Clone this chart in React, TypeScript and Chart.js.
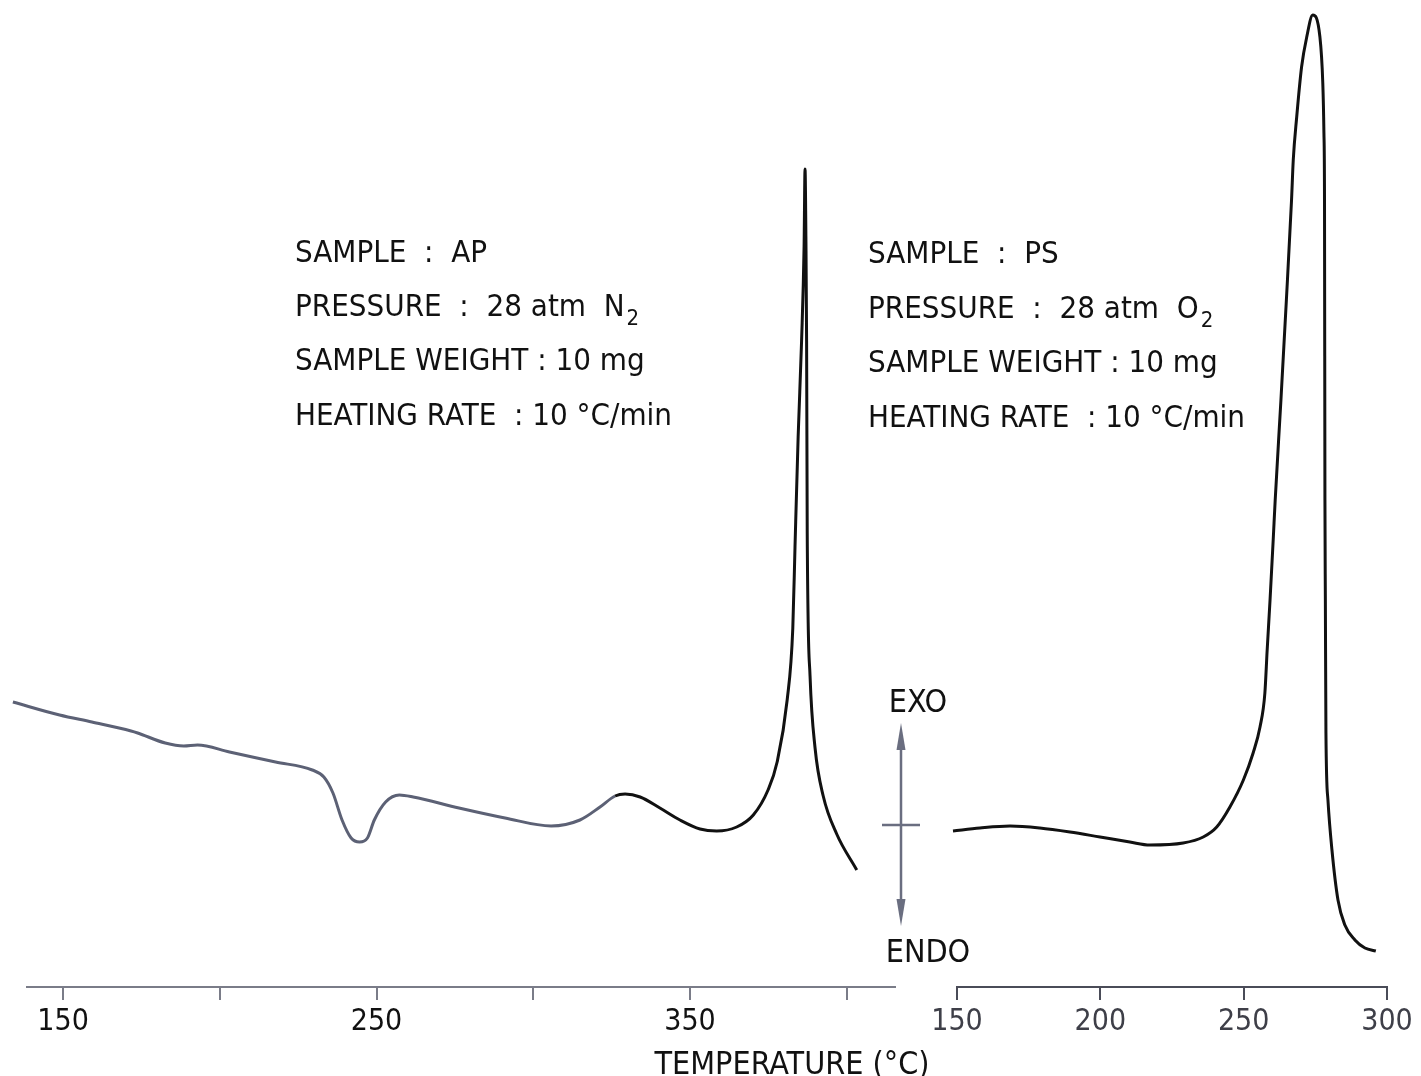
import React, { useEffect, useRef } from "react";
import { Chart, registerables } from "chart.js";

Chart.register(...registerables);

// ---- Data ----
// Left trace: sample AP, 28 atm N2 (temperature °C, heat flow arb. units)
const apTemp = [
  134.0, 148.9, 159.2, 171.7, 173.8, 182.6, 188.5, 192.9, 203.1, 217.8, 229.5, 233.2,
  236.1, 239.0, 241.9, 244.6, 247.1, 249.3, 252.9, 257.3, 261.7, 276.3, 291.0, 305.7,
  314.9, 321.3, 326.1, 329.3, 334.1, 340.4, 346.8, 353.2, 358.5, 364.9, 370.2, 374.9,
  377.8, 381.0, 382.8, 383.5, 384.5, 385.6, 386.4, 386.7, 387.0, 387.2, 387.4, 388.3,
  389.9, 392.5, 396.8, 403.2,
];
const apSignal = [
  28.5, 27.2, 26.5, 25.6, 25.4, 24.4, 24.1, 24.2, 23.5, 22.5, 21.7, 21.0,
  19.4, 16.7, 14.9, 14.5, 14.9, 16.7, 18.5, 19.2, 19.0, 17.9, 16.9, 16.1,
  16.7, 18.0, 19.1, 19.3, 19.0, 17.9, 16.7, 15.8, 15.6, 16.0, 17.2, 19.7,
  22.5, 28.7, 35.9, 44.0, 55.0, 64.6, 74.1, 81.8, 74.1, 64.6, 45.4, 31.1,
  23.9, 19.1, 15.3, 11.7,
];
// Right trace: sample PS, 28 atm O2
const psTemp = [
  148.6, 158.0, 168.5, 178.9, 189.4, 199.9, 210.3, 217.3, 228.9, 235.9, 240.6, 245.2,
  249.9, 253.3, 255.7, 257.4, 258.2, 259.2, 260.3, 261.0, 263.0, 264.9, 266.7, 267.3,
  268.5, 270.2, 272.0, 274.1, 276.6, 277.6, 278.0, 278.2, 278.35, 278.5, 278.7, 279.4,
  280.8, 282.9, 285.3, 288.8, 292.3, 296.1,
];
const psSignal = [
  15.6, 15.9, 16.1, 15.9, 15.5, 15.0, 14.5, 14.2, 14.4, 15.0, 16.0, 18.0,
  20.7, 23.4, 26.0, 29.4, 33.7, 38.7, 44.7, 48.7, 58.7, 68.7, 78.7, 82.7,
  87.0, 92.0, 95.0, 97.2, 95.0, 90.4, 85.4, 78.7, 48.7, 38.7, 25.4, 18.7,
  13.7, 8.7, 6.2, 4.7, 3.9, 3.6,
];

const apTicks = [150, 200, 250, 300, 350, 400];
const apTickLabels = ["150", "", "250", "", "350", ""];
const psTicks = [150, 200, 250, 300];
const psTickLabels = ["150", "200", "250", "300"];

const apInfo = [
  { text: "SAMPLE  :  AP", sub: "" },
  { text: "PRESSURE  :  28 atm  N", sub: "2" },
  { text: "SAMPLE WEIGHT : 10 mg", sub: "" },
  { text: "HEATING RATE  : 10 °C/min", sub: "" },
];
const psInfo = [
  { text: "SAMPLE  :  PS", sub: "" },
  { text: "PRESSURE  :  28 atm  O", sub: "2" },
  { text: "SAMPLE WEIGHT : 10 mg", sub: "" },
  { text: "HEATING RATE  : 10 °C/min", sub: "" },
];
const axisTitle = "TEMPERATURE (°C)";
const exoLabel = "EXO";
const endoLabel = "ENDO";

// ---- Styling ----
const W = 1421;
const H = 1076;
const FONT = "'DejaVu Sans Condensed', 'DejaVu Sans', sans-serif";
const GRAY = "#5c6175";
const INK = "#111111";
const Y_MIN = 0;
const Y_MAX = 98.7;

function drawInfo(ctx: CanvasRenderingContext2D, x: number, baselines: number[], lines: { text: string; sub: string }[]) {
  lines.forEach((ln, i) => {
    ctx.font = `31px ${FONT}`;
    ctx.fillStyle = INK;
    ctx.textAlign = "left";
    ctx.textBaseline = "alphabetic";
    ctx.fillText(ln.text, x, baselines[i]);
    if (ln.sub) {
      const w = ctx.measureText(ln.text).width;
      ctx.font = `22px ${FONT}`;
      ctx.fillText(ln.sub, x + w + 2, baselines[i] + 9);
    }
  });
}

function xScale(min: number, max: number, ticks: number[], labels: string[], color: string, lineColor: string) {
  return {
    type: "linear" as const,
    min,
    max,
    afterBuildTicks: (s: any) => {
      s.ticks = ticks.map((v) => ({ value: v }));
    },
    afterFit: (s: any) => {
      s.height = 89;
    },
    ticks: {
      autoSkip: false,
      maxRotation: 0,
      padding: 4,
      color,
      font: { family: FONT, size: 30 },
      callback: (v: any) => {
        const i = ticks.indexOf(Number(v));
        return i >= 0 ? labels[i] : "";
      },
    },
    grid: {
      display: true,
      drawOnChartArea: false,
      drawTicks: true,
      tickLength: 13,
      color: lineColor,
      lineWidth: 2,
    },
    border: { display: true, color: lineColor, width: 2 },
  };
}

const yScale = {
  type: "linear" as const,
  display: false,
  min: Y_MIN,
  max: Y_MAX,
};

export default function App() {
  const leftRef = useRef<HTMLCanvasElement | null>(null);
  const rightRef = useRef<HTMLCanvasElement | null>(null);

  useEffect(() => {
    if (!leftRef.current || !rightRef.current) return;

    const leftNotes = {
      id: "leftNotes",
      afterDraw(chart: any) {
        const ctx = chart.ctx as CanvasRenderingContext2D;
        ctx.save();
        drawInfo(ctx, 295, [262, 316, 370, 425], apInfo);
        ctx.font = `32px ${FONT}`;
        ctx.fillStyle = INK;
        ctx.textAlign = "center";
        ctx.textBaseline = "alphabetic";
        ctx.fillText(axisTitle, 792, 1074);
        ctx.restore();
      },
    };

    const rightNotes = {
      id: "rightNotes",
      afterDraw(chart: any) {
        const ctx = chart.ctx as CanvasRenderingContext2D;
        ctx.save();
        drawInfo(ctx, 868, [263, 318, 372, 427], psInfo);
        // EXO / ENDO arrow
        const ax = 901;
        ctx.strokeStyle = "#6a6e80";
        ctx.fillStyle = "#6a6e80";
        ctx.lineWidth = 2.5;
        ctx.beginPath();
        ctx.moveTo(ax, 735);
        ctx.lineTo(ax, 915);
        ctx.moveTo(882, 825);
        ctx.lineTo(920, 825);
        ctx.stroke();
        ctx.beginPath();
        ctx.moveTo(ax, 723);
        ctx.lineTo(ax - 4.5, 750);
        ctx.lineTo(ax + 4.5, 750);
        ctx.closePath();
        ctx.fill();
        ctx.beginPath();
        ctx.moveTo(ax, 926);
        ctx.lineTo(ax - 4.5, 899);
        ctx.lineTo(ax + 4.5, 899);
        ctx.closePath();
        ctx.fill();
        ctx.font = `32px ${FONT}`;
        ctx.fillStyle = INK;
        ctx.textAlign = "center";
        ctx.textBaseline = "alphabetic";
        ctx.fillText(exoLabel, 918, 712);
        ctx.fillText(endoLabel, 928, 962);
        ctx.restore();
      },
    };

    const left = new Chart(leftRef.current, {
      type: "line",
      data: {
        datasets: [
          {
            label: "AP",
            data: apTemp.map((t, i) => ({ x: t, y: apSignal[i] })),
            borderColor: INK,
            borderWidth: 3,
            pointRadius: 0,
            cubicInterpolationMode: "monotone",
            fill: false,
            clip: false as any,
            segment: {
              borderColor: (c: any) => (c.p0.parsed.x < 326 ? GRAY : INK),
            },
          },
        ],
      },
      options: {
        responsive: false,
        animation: false,
        layout: { padding: { left: 27, right: W - 895, top: 0, bottom: 0 } },
        plugins: { legend: { display: false }, tooltip: { enabled: false }, title: { display: false } },
        scales: {
          x: xScale(138.5, 415.4, apTicks, apTickLabels, INK, "#7a7c88"),
          y: yScale,
        },
      },
      plugins: [leftNotes],
    });

    const right = new Chart(rightRef.current, {
      type: "line",
      data: {
        datasets: [
          {
            label: "PS",
            data: psTemp.map((t, i) => ({ x: t, y: psSignal[i] })),
            borderColor: INK,
            borderWidth: 3,
            pointRadius: 0,
            cubicInterpolationMode: "monotone",
            fill: false,
            clip: false as any,
          },
        ],
      },
      options: {
        responsive: false,
        animation: false,
        layout: { padding: { left: 957, right: W - 1387, top: 0, bottom: 0 } },
        plugins: { legend: { display: false }, tooltip: { enabled: false }, title: { display: false } },
        scales: {
          x: xScale(150, 300, psTicks, psTickLabels, "#3e3f48", "#4a4c58"),
          y: yScale,
        },
      },
      plugins: [rightNotes],
    });

    return () => {
      left.destroy();
      right.destroy();
    };
  }, []);

  const canvasStyle: React.CSSProperties = { position: "absolute", left: 0, top: 0, width: W, height: H };
  return (
    <div style={{ position: "absolute", left: 0, top: 0, width: W, height: H, background: "#ffffff", overflow: "hidden" }}>
      <canvas ref={leftRef} width={W} height={H} style={canvasStyle} />
      <canvas ref={rightRef} width={W} height={H} style={canvasStyle} />
    </div>
  );
}
